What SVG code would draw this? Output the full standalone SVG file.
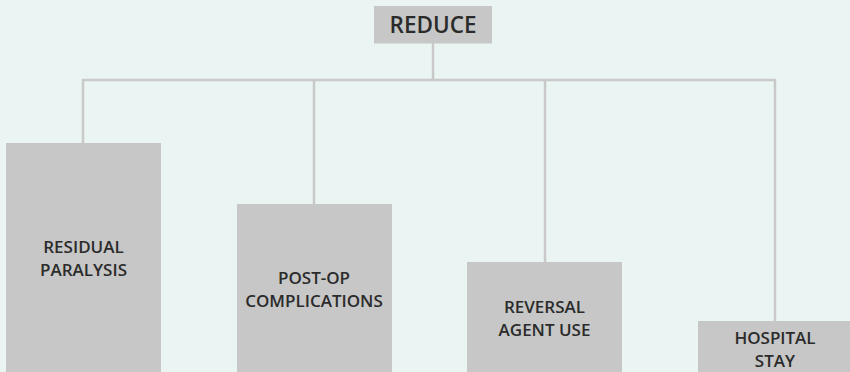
<svg xmlns="http://www.w3.org/2000/svg" width="850" height="372" viewBox="0 0 850 372">
<style>
.bg{fill:#eaf4f2}
.box{fill:#c6c7c6}
.lbl{font-family:"Open Sans","DejaVu Sans",sans-serif;font-weight:600;font-size:17px;fill:#2b2b2b;text-anchor:middle}
.title{font-size:22.5px}
.conn{stroke:#c8c9c8;stroke-width:2.5;fill:none}
</style>
<rect class="bg" x="0" y="0" width="850" height="372"/>
<g id="connectors">
<path class="conn" d="M433 43V80M83 80H775M83 79V143M314 79V204M545 79V262M775 79V321"/>
</g>
<g id="reduce">
<rect class="box" x="374" y="6" width="118" height="37.5"/>
<text class="lbl title" x="433" y="33">REDUCE</text>
</g>
<g id="residual-paralysis">
<rect class="box" x="6" y="143" width="155" height="240"/>
<text class="lbl" x="83.5" y="253">RESIDUAL</text>
<text class="lbl" x="83.5" y="276">PARALYSIS</text>
</g>
<g id="post-op-complications">
<rect class="box" x="237" y="204" width="155" height="180"/>
<text class="lbl" x="314" y="284">POST-OP</text>
<text class="lbl" x="314" y="307">COMPLICATIONS</text>
</g>
<g id="reversal-agent-use">
<rect class="box" x="467" y="262" width="155" height="120"/>
<text class="lbl" x="544.5" y="313">REVERSAL</text>
<text class="lbl" x="544.5" y="336">AGENT USE</text>
</g>
<g id="hospital-stay">
<rect class="box" x="698" y="321" width="155" height="60"/>
<text class="lbl" x="775" y="344">HOSPITAL</text>
<text class="lbl" x="775" y="367">STAY</text>
</g>
</svg>
